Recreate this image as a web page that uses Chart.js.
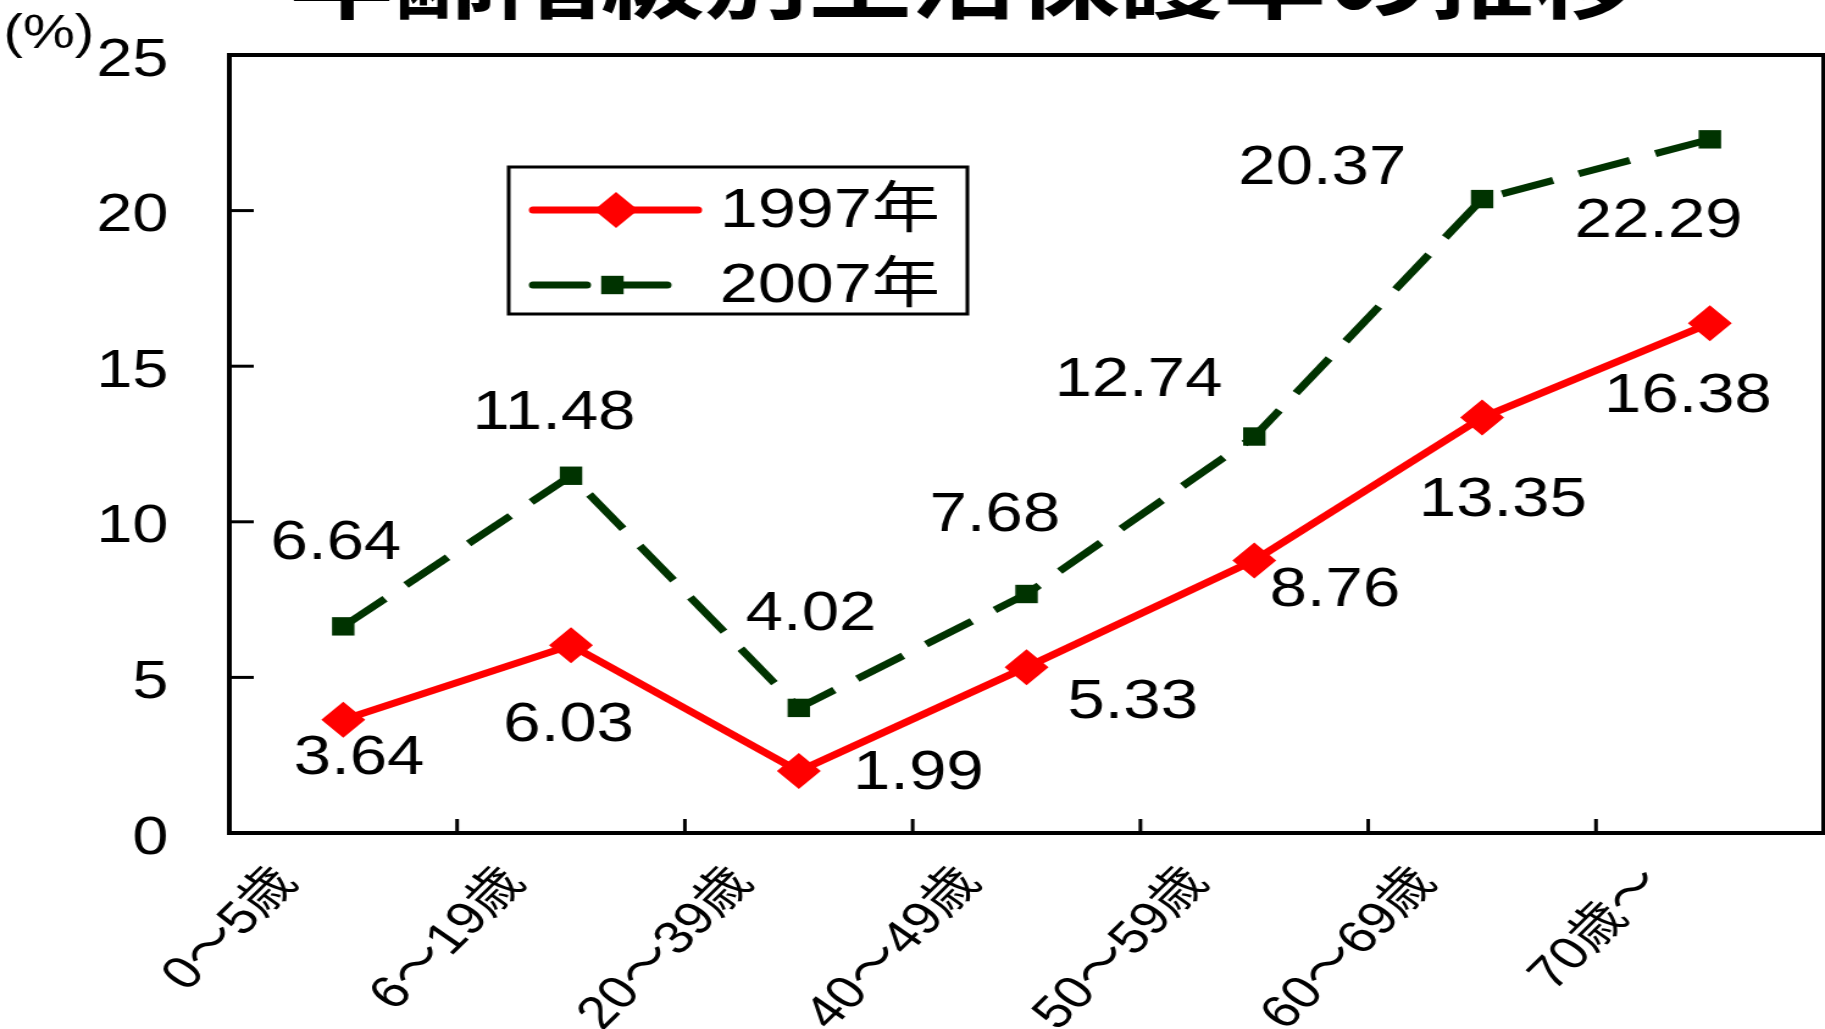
<!DOCTYPE html>
<html lang="ja">
<head>
<meta charset="utf-8">
<title>年齢階級別生活保護率の推移</title>
<script src="https://cdn.jsdelivr.net/npm/chart.js@4.4.1/dist/chart.umd.min.js"></script>
<style>
  html, body { margin: 0; padding: 0; background: #fff; overflow: hidden; }
  /* the source picture is stretched sideways, so draw narrow and widen */
  #wrap { width: 1496px; height: 1029px; transform: scaleX(1.2199); transform-origin: 0 0; }
</style>
</head>
<body>
<div id="wrap"><canvas id="chart" width="1496" height="1029"></canvas></div>
<script>
const chartTitle = "年齢階級別生活保護率の推移";
const unitLabel = "(%)";
const ageGroups = ["0～5歳", "6～19歳", "20～39歳", "40～49歳", "50～59歳", "60～69歳", "70歳～"];
const seriesNames = ["1997年", "2007年"];
const rate1997 = [3.64, 6.03, 1.99, 5.33, 8.76, 13.35, 16.38];
const rate2007 = [6.64, 11.48, 4.02, 7.68, 12.74, 20.37, 22.29];
const yTicks = [0, 5, 10, 15, 20, 25];

// where each value label sits relative to its point (dx, dy in px)
const labelShift1997 = [[13, 39], [-2, 80], [98, 3], [87, 36], [66, 30], [17, 83], [-18, 74]];
const labelShift2007 = [[-6, -83], [-14, -62], [10, -93], [-26, -78], [-95, -56], [-131, -30], [-42, 82]];

const FONT = '"Liberation Sans", Arial, "Noto Sans CJK JP", sans-serif';
const RED = "#ff0000";
const GREEN = "#003300";

// frame round the plot + short inward tick marks
const framePlugin = {
  id: "frame",
  beforeDatasetsDraw(chart) {
    const { ctx, chartArea: a, scales } = chart;
    ctx.save();
    ctx.strokeStyle = "#000";
    ctx.lineWidth = 3;
    yTicks.forEach(v => {
      const y = scales.y.getPixelForValue(v);
      ctx.beginPath();
      ctx.moveTo(a.left, y);
      ctx.lineTo(a.left + 20, y);
      ctx.stroke();
    });
    for (let i = 1; i < ageGroups.length; i++) {
      const x = (scales.x.getPixelForValue(i - 1) + scales.x.getPixelForValue(i)) / 2;
      ctx.beginPath();
      ctx.moveTo(x, a.bottom);
      ctx.lineTo(x, a.bottom - 14);
      ctx.stroke();
    }
    ctx.lineWidth = 4;
    ctx.strokeRect(a.left, a.top, a.right - a.left, a.bottom - a.top);
    ctx.restore();
  }
};

const valueLabels = {
  id: "valueLabels",
  afterDatasetsDraw(chart) {
    const { ctx } = chart;
    const shifts = [labelShift1997, labelShift2007];
    ctx.save();
    ctx.font = "55px " + FONT;
    ctx.fillStyle = "#000";
    ctx.textAlign = "center";
    ctx.textBaseline = "middle";
    chart.data.datasets.forEach((ds, di) => {
      chart.getDatasetMeta(di).data.forEach((pt, i) => {
        const [dx, dy] = shifts[di][i];
        ctx.fillText(ds.data[i].toFixed(2), pt.x + dx, pt.y + dy);
      });
    });
    ctx.restore();
  }
};

function marker(ctx, style, x, y, r, color) {
  ctx.fillStyle = color;
  ctx.beginPath();
  if (style === "rectRot") {
    ctx.moveTo(x - r, y); ctx.lineTo(x, y - r); ctx.lineTo(x + r, y); ctx.lineTo(x, y + r);
  } else {
    const h = r * Math.SQRT1_2;
    ctx.rect(x - h, y - h, 2 * h, 2 * h);
  }
  ctx.closePath();
  ctx.fill();
}

const legendBox = {
  id: "legendBox",
  afterDraw(chart) {
    const { ctx } = chart;
    ctx.save();
    ctx.fillStyle = "#fff";
    ctx.fillRect(417, 167, 376, 147);
    ctx.strokeStyle = "#000";
    ctx.lineWidth = 3;
    ctx.strokeRect(417, 167, 376, 147);
    const rows = [210, 285];
    chart.data.datasets.forEach((ds, i) => {
      const y = rows[i];
      ctx.strokeStyle = ds.borderColor;
      ctx.lineWidth = ds.borderWidth;
      ctx.lineCap = "round";
      ctx.setLineDash(ds.borderDash || []);
      ctx.beginPath();
      ctx.moveTo(437, y);
      ctx.lineTo(i === 0 ? 572 : 553, y);
      ctx.stroke();
      ctx.setLineDash([]);
      marker(ctx, ds.pointStyle, i === 0 ? 505 : 502, y, i === 0 ? 18 : 13, ds.pointBackgroundColor);
      ctx.fillStyle = "#000";
      ctx.font = "56px " + FONT;
      ctx.textAlign = "left";
      ctx.textBaseline = "middle";
      ctx.fillText(ds.label, 590, y + 2);
    });
    ctx.restore();
  }
};

const headText = {
  id: "headText",
  afterDraw(chart) {
    const { ctx } = chart;
    ctx.save();
    ctx.fillStyle = "#000";
    ctx.textAlign = "center";
    ctx.textBaseline = "alphabetic";
    ctx.font = 'bold 85px "Noto Sans CJK JP", sans-serif';
    ctx.fillText(chartTitle, 790, 12);
    ctx.font = "48px " + FONT;
    ctx.textBaseline = "middle";
    ctx.fillText(unitLabel, 40, 35);
    ctx.restore();
  }
};

new Chart(document.getElementById("chart"), {
  type: "line",
  data: {
    labels: ageGroups,
    datasets: [
      {
        label: seriesNames[0],
        data: rate1997,
        borderColor: RED,
        backgroundColor: RED,
        borderWidth: 7,
        pointStyle: "rectRot",
        pointRadius: 18,
        pointBackgroundColor: RED,
        pointBorderColor: RED,
        pointBorderWidth: 0,
        tension: 0
      },
      {
        label: seriesNames[1],
        data: rate2007,
        borderColor: GREEN,
        backgroundColor: GREEN,
        borderWidth: 7,
        borderDash: [44, 22],
        pointStyle: "rect",
        pointRadius: 13,
        pointBackgroundColor: GREEN,
        pointBorderColor: GREEN,
        pointBorderWidth: 0,
        tension: 0
      }
    ]
  },
  options: {
    responsive: false,
    animation: false,
    devicePixelRatio: 1,
    layout: { autoPadding: false, padding: { top: 55, right: 1, left: 0, bottom: 0 } },
    plugins: {
      legend: { display: false },
      tooltip: { enabled: false }
    },
    scales: {
      x: {
        offset: true,
        grid: { display: false, drawTicks: false },
        border: { display: false },
        ticks: {
          autoSkip: false,
          minRotation: 50,
          maxRotation: 50,
          labelOffset: -46,
          padding: 24,
          color: "#000",
          font: { family: FONT, size: 46 }
        },
        afterFit(s) {
          s.height = 196;
          s.paddingLeft = 0;
          s.paddingRight = 0;
        }
      },
      y: {
        min: 0,
        max: 25,
        grid: { display: false, drawTicks: false },
        border: { display: false },
        ticks: {
          stepSize: 5,
          padding: 50,
          labelOffset: 6,
          color: "#000",
          font: { family: FONT, size: 53 }
        },
        afterFit(s) {
          s.width = 188;
          s.paddingTop = 0;
          s.paddingBottom = 0;
        }
      }
    }
  },
  plugins: [framePlugin, valueLabels, legendBox, headText]
});
</script>
</body>
</html>
